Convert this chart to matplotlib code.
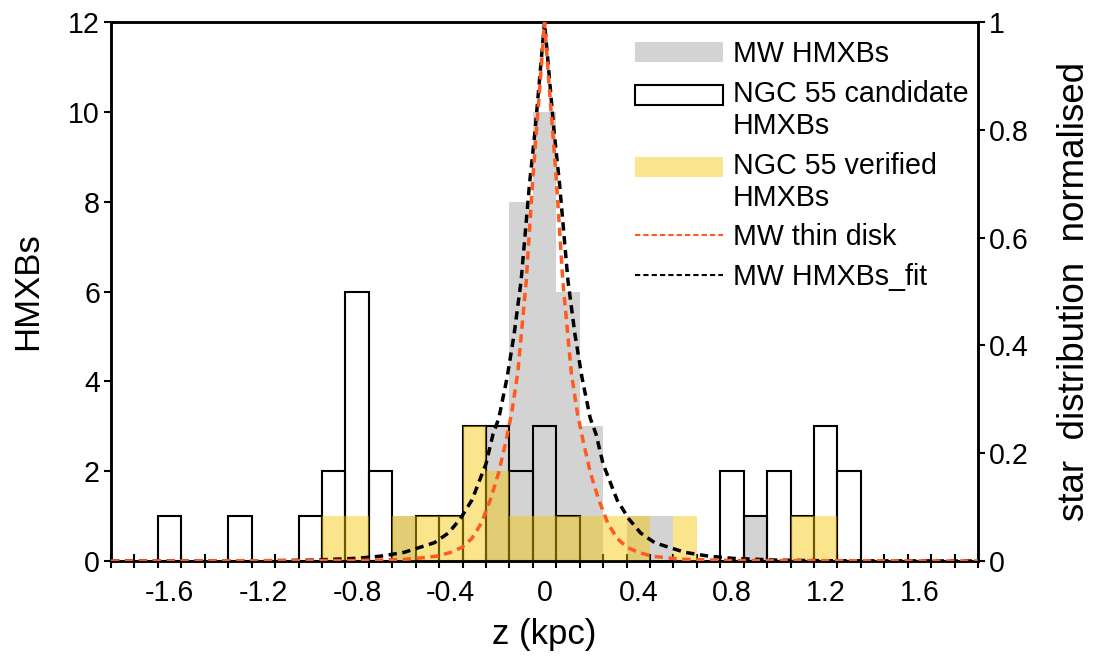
import numpy as np
import matplotlib
matplotlib.use("Agg")
import matplotlib.pyplot as plt
from matplotlib.lines import Line2D
from matplotlib.patches import Patch
from matplotlib.legend_handler import HandlerPatch

plt.rcParams['font.family'] = ['Liberation Sans', 'DejaVu Sans']

# histogram counts per 0.1 kpc bin (bin centres)
mw_z = [-0.6, -0.2, -0.1, 0.0, 0.1, 0.2, 0.4, 0.5, 0.9]
mw_n = [1, 3, 8, 10, 6, 3, 1, 1, 1]

cand_z = [-1.6, -1.3, -1.0, -0.9, -0.8, -0.7, -0.5, -0.4, -0.3, -0.2,
          -0.1, 0.0, 0.1, 0.8, 0.9, 1.0, 1.1, 1.2, 1.3]
cand_n = [1, 1, 1, 2, 6, 2, 1, 1, 3, 3, 2, 3, 1, 2, 1, 2, 1, 3, 2]

ver_z = [-0.9, -0.8, -0.6, -0.5, -0.4, -0.3, -0.2, -0.1, 0.0, 0.1,
         0.2, 0.3, 0.4, 0.6, 1.1, 1.2]
ver_n = [1, 1, 1, 1, 1, 3, 2, 1, 1, 1, 1, 1, 1, 1, 1, 1]

# normalised curves
thin_z = [-1.85, -0.8, -0.6, -0.52, -0.46, -0.40, -0.35, -0.31, -0.27, -0.23,
          -0.195, -0.166, -0.14, -0.114, -0.078, -0.05, -0.02, 0.0,
          0.02, 0.05, 0.078, 0.114, 0.14, 0.166, 0.195, 0.23, 0.27, 0.31,
          0.35, 0.40, 0.46, 0.52, 0.6, 0.8, 1.85]
thin_v = [0.0, 0.001, 0.003, 0.006, 0.009, 0.016, 0.026, 0.042, 0.07, 0.115,
          0.165, 0.22, 0.275, 0.35, 0.52, 0.71, 0.88, 1.0,
          0.88, 0.71, 0.52, 0.35, 0.275, 0.22, 0.165, 0.115, 0.07, 0.042,
          0.026, 0.016, 0.009, 0.006, 0.003, 0.001, 0.0]

fit_z = [-1.85, -1.2, -1.0, -0.8, -0.7, -0.6, -0.52, -0.47, -0.41, -0.36,
         -0.31, -0.25, -0.22, -0.195, -0.16, -0.13, -0.10, -0.064, -0.04,
         -0.02, 0.0, 0.02, 0.04, 0.064, 0.10, 0.13, 0.16, 0.195, 0.22, 0.25,
         0.31, 0.36, 0.41, 0.47, 0.52, 0.6, 0.7, 0.8, 1.0, 1.2, 1.85]
fit_v = [0.0, 0.0005, 0.0015, 0.005, 0.009, 0.016, 0.027, 0.034, 0.052, 0.078,
         0.113, 0.18, 0.235, 0.265, 0.34, 0.42, 0.52, 0.70, 0.80,
         0.90, 1.0, 0.90, 0.80, 0.70, 0.52, 0.42, 0.34, 0.265, 0.235, 0.18,
         0.113, 0.078, 0.052, 0.034, 0.027, 0.016, 0.009, 0.005, 0.0015, 0.0005, 0.0]

xtick_vals = [-1.6, -1.2, -0.8, -0.4, 0, 0.4, 0.8, 1.2, 1.6]
xtick_labels = ['-1.6', '-1.2', '-0.8', '-0.4', '0', '0.4', '0.8', '1.2', '1.6']
ytick_vals = [0, 2, 4, 6, 8, 10, 12]
y2tick_vals = [0, 0.2, 0.4, 0.6, 0.8, 1]
y2tick_labels = ['0', '0.2', '0.4', '0.6', '0.8', '1']

GRAY = '#d3d3d3'
YELLOW = '#f5c400'
ORANGE = '#ff5a1f'
FS = 20.6      # ticks, legend
LFS = 25       # axis labels


class FirstLinePatch(HandlerPatch):
    """Patch handle lifted to the first line of a two-line label."""
    def create_artists(self, legend, orig_handle, xdescent, ydescent,
                       width, height, fontsize, trans):
        arts = super().create_artists(legend, orig_handle, xdescent, ydescent,
                                      width, height, fontsize, trans)
        for a in arts:
            a.set_y(a.get_y() + 0.55 * fontsize)
        return arts


fig = plt.figure(figsize=(10.93, 6.57), dpi=100)
ax = fig.add_axes([0.1016, 0.1461, 0.7932, 0.8204])

ax.bar(mw_z, mw_n, width=0.1, color=GRAY, linewidth=0, zorder=1)
ax.bar(cand_z, cand_n, width=0.1, facecolor='none', edgecolor='black',
       linewidth=1.5, zorder=2)
ax.bar(ver_z, ver_n, width=0.1, color=YELLOW, alpha=0.45, linewidth=0, zorder=3)

ax.set_xlim(-1.85, 1.85)
ax.set_ylim(0, 12)
ax.set_xticks(xtick_vals, xtick_labels)
ax.set_xticks(np.arange(-1.85, 1.86, 0.1), minor=True)
ax.tick_params(axis='x', which='major', length=0, labelsize=FS, pad=13)
ax.tick_params(axis='x', which='minor', direction='inout', length=10, width=1.5)
ax.set_yticks(ytick_vals)
ax.tick_params(axis='y', direction='out', length=5, width=1.5, labelsize=FS, pad=3)
for s in ax.spines.values():
    s.set_linewidth(1.8)
ax.set_xlabel('z (kpc)', fontsize=LFS, labelpad=8)
ax.set_ylabel('HMXBs', fontsize=LFS, labelpad=17)

ax2 = ax.twinx()
ax2.plot(thin_z, thin_v, color=ORANGE, lw=2.5, dashes=(2.4, 1.6), zorder=5)
ax2.plot(fit_z, fit_v, color='black', lw=2.5, dashes=(2.4, 1.6), zorder=4)
ax2.set_ylim(0, 1)
ax2.set_yticks(y2tick_vals, y2tick_labels)
ax2.tick_params(axis='y', direction='out', length=5, width=1.5, labelsize=FS, pad=3)
ax2.set_ylabel('star  distribution  normalised', fontsize=26.5, labelpad=20)
for s in ax2.spines.values():
    s.set_linewidth(1.8)

cand_h = Patch(facecolor='white', edgecolor='black', linewidth=1.5)
ver_h = Patch(facecolor=YELLOW, alpha=0.45, edgecolor='none')
handles = [
    Patch(facecolor=GRAY, edgecolor='none'),
    cand_h,
    ver_h,
    Line2D([], [], color=ORANGE, lw=1.5, dashes=(2.5, 1.5)),
    Line2D([], [], color='black', lw=1.5, dashes=(2.5, 1.5)),
]
labels = ['MW HMXBs', 'NGC 55 candidate\nHMXBs', 'NGC 55 verified\nHMXBs',
          'MW thin disk', 'MW HMXBs_fit']
ax2.legend(handles, labels, loc='upper left', bbox_to_anchor=(0.604, 0.966),
           frameon=False, fontsize=FS, handlelength=3.1, handletextpad=0.32,
           labelspacing=0.4, borderpad=0, borderaxespad=0,
           handler_map={cand_h: FirstLinePatch(), ver_h: FirstLinePatch()})

fig.savefig('out.png', dpi=100)
